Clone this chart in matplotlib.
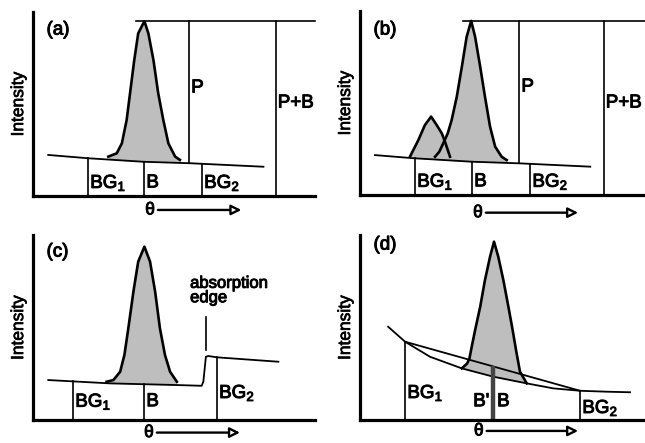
import numpy as np
import matplotlib.pyplot as plt
import matplotlib.patheffects as pe

plt.rcParams['font.family'] = ['Liberation Sans', 'DejaVu Sans']
plt.rcParams['mathtext.fontset'] = 'custom'
plt.rcParams['mathtext.rm'] = 'Liberation Sans'
plt.rcParams['mathtext.it'] = 'Liberation Sans'

# panel (a): single peak on a sloping background
a_base_x = [5.4, 19.6, 39.1, 55.7, 81.7]
a_base_y = [22.3, 20.5, 18.6, 17.8, 15.9]
a_peak_x = [26.7, 29.7, 31.5, 33.2, 34.4, 35.9, 37.3, 39.5, 40.9, 42.7, 44.4, 46.2, 48.0, 50.4, 52.1]
a_peak_y = [21.4, 23.2, 28.6, 41.3, 55.8, 73.9, 88.4, 95.0, 88.4, 73.9, 55.8, 41.3, 28.6, 21.4, 19.6]
a_marks = [19.5, 39.4, 59.9]          # BG1, B, BG2
a_p_x, a_pb_x, a_top = 55.3, 86.2, 95.0

# panel (b): overlapping neighbour peak
b_base_x = [5.3, 18.9, 39.6, 56.7, 81.6]
b_base_y = [21.7, 20.0, 18.1, 17.2, 15.4]
b_main_x = [26.6, 28.1, 29.5, 31.1, 32.5, 34.3, 36.1, 37.8, 39.4, 40.8, 42.6, 44.3, 46.1, 47.9, 50.2, 52.0]
b_main_y = [20.8, 23.5, 28.1, 33.5, 40.8, 53.4, 69.7, 86.0, 94.6, 86.0, 69.7, 53.4, 37.1, 26.3, 20.8, 19.0]
b_small_x = [17.7, 20.7, 23.0, 25.2, 27.2, 29.0, 29.9, 31.1, 31.9]
b_small_y = [20.8, 29.9, 38.0, 42.6, 38.0, 33.5, 29.9, 24.5, 20.8]
b_marks = [19.5, 39.7, 60.3]
b_p_x, b_pb_x, b_top = 56.4, 86.5, 94.6

# panel (c): absorption edge in the background
c_base_x = [5.4, 27.3, 51.0, 59.8, 60.4, 61.3, 62.2, 65.1, 87.0]
c_base_y = [21.6, 19.8, 18.9, 18.5, 20.7, 34.2, 34.6, 33.9, 31.5]
c_peak_x = [26.1, 28.5, 30.9, 32.4, 33.8, 35.6, 37.3, 39.5, 41.5, 43.3, 45.0, 46.8, 48.6, 51.0]
c_peak_y = [20.7, 21.6, 26.1, 35.1, 49.6, 69.4, 85.6, 93.7, 85.6, 69.4, 49.6, 35.1, 26.1, 20.7]
c_marks = [14.2, 39.4, 65.2]
c_edge_x = 61.3

# panel (d): curved background vs. linear estimate
d_curve_x = [10.0, 16.0, 24.8, 36.1, 47.3, 59.1, 68.5, 78.0, 87.5, 95.7]
d_curve_y = [50.4, 42.3, 34.2, 27.9, 23.4, 19.8, 17.1, 15.8, 15.3, 15.0]
d_peak_x = [36.1, 38.0, 38.8, 39.6, 40.8, 42.6, 44.3, 46.1, 47.5, 49.0, 50.8, 52.6, 54.1, 55.3, 56.7, 59.1]
d_peak_y = [27.9, 30.6, 33.4, 39.6, 48.6, 61.2, 75.7, 88.3, 96.4, 88.3, 75.7, 61.2, 48.6, 37.8, 26.1, 19.8]
d_bg_x = [16.0, 78.0]
d_b_x = 47.2

GRAY = '#bebebe'
PEAK_LW = 1.9
LINE_LW = 1.2
FS = 13.5
HEAVY = [pe.withStroke(linewidth=0.7, foreground='black')]

fig = plt.figure(figsize=(6.45, 4.43), dpi=100)
ax_a = fig.add_axes([0.0512, 0.5576, 0.4372, 0.4153])
ax_b = fig.add_axes([0.5581, 0.5598, 0.4419, 0.4153])
ax_c = fig.add_axes([0.0512, 0.0519, 0.4372, 0.4176])
ax_d = fig.add_axes([0.5581, 0.0519, 0.4419, 0.4176])


def label(ax, x, y, s, **kw):
    kw.setdefault('fontsize', FS)
    kw.setdefault('va', 'center')
    kw.setdefault('ha', 'left')
    return ax.text(x, y, s, path_effects=HEAVY, clip_on=False, **kw)


def setup(ax, tag, xmax, tag_y, theta_y, arrow_x):
    ax.set_xlim(0, xmax)
    ax.set_ylim(0, 100)
    ax.set_xticks([])
    ax.set_yticks([])
    for s in ['top', 'right']:
        ax.spines[s].set_visible(False)
    for s in ['left', 'bottom']:
        ax.spines[s].set_linewidth(2.3)
    yl = ax.set_ylabel('Intensity', fontsize=12.5, labelpad=5)
    yl.set_path_effects([pe.withStroke(linewidth=0.5, foreground='black')])
    label(ax, 4.8, tag_y, tag)
    label(ax, arrow_x[0] - 2.8, theta_y, 'θ', fontsize=12.5, ha='center')
    ax.annotate('', xy=(arrow_x[1], theta_y), xytext=(arrow_x[0], theta_y),
                arrowprops=dict(arrowstyle='-|>', fc='white', ec='black', lw=1.7,
                                mutation_scale=15, shrinkA=0, shrinkB=0),
                annotation_clip=False)


def peak(ax, px, py, bx, by):
    px = np.array(px)
    under = np.interp(px, bx, by)
    ax.fill_between(px, under, py, color=GRAY, lw=0)
    ax.plot(px, py, color='black', lw=PEAK_LW, solid_joinstyle='round')


def marks(ax, xs, bx, by, labels, label_y):
    for x, lab, ly in zip(xs, labels, label_y):
        ax.plot([x, x], [0, np.interp(x, bx, by)], color='black', lw=LINE_LW)
        label(ax, x + 0.8, ly, lab)


labels3 = [r'BG$_1$', 'B', r'BG$_2$']

# (a)
setup(ax_a, '(a)', 100, 90.2, -7.6, (44.3, 73.9))
peak(ax_a, a_peak_x, a_peak_y, a_base_x, a_base_y)
ax_a.plot(a_base_x, a_base_y, color='black', lw=1.3)
marks(ax_a, a_marks, a_base_x, a_base_y, labels3, [7.1] * 3)
ax_a.plot([36.5, 100], [a_top, a_top], color='black', lw=LINE_LW, clip_on=False)
ax_a.plot([a_p_x, a_p_x], [a_top, np.interp(a_p_x, a_base_x, a_base_y)], color='black', lw=LINE_LW)
ax_a.plot([a_pb_x, a_pb_x], [a_top, 0], color='black', lw=LINE_LW)
label(ax_a, a_p_x + 0.8, 58.7, 'P')
label(ax_a, a_pb_x + 0.6, 50.5, 'P+B')

# (b)
setup(ax_b, '(b)', 101, 89.7, -9.6, (44.6, 77.3))
sx = np.array(b_small_x)
mx = np.array(b_main_x)
gx = np.union1d(sx, mx)
gs = np.interp(gx, sx, b_small_y, left=0, right=0)
gm = np.interp(gx, mx, b_main_y, left=0, right=0)
top_env = np.maximum(gs, gm)
under = np.interp(gx, b_base_x, b_base_y)
ax_b.fill_between(gx, under, np.maximum(top_env, under), color=GRAY, lw=0)
ax_b.plot(b_small_x, b_small_y, color='black', lw=PEAK_LW)
ax_b.plot(b_main_x, b_main_y, color='black', lw=PEAK_LW)
ax_b.plot(b_base_x, b_base_y, color='black', lw=1.3)
marks(ax_b, b_marks, b_base_x, b_base_y, labels3, [7.2] * 3)
ax_b.plot([36.4, 101], [b_top, b_top], color='black', lw=LINE_LW, clip_on=False)
ax_b.plot([b_p_x, b_p_x], [b_top, np.interp(b_p_x, b_base_x, b_base_y)], color='black', lw=LINE_LW)
ax_b.plot([b_pb_x, b_pb_x], [b_top, 0], color='black', lw=LINE_LW)
label(ax_b, b_p_x + 0.8, 58.7, 'P')
label(ax_b, b_pb_x + 0.6, 50.0, 'P+B')

# (c)
setup(ax_c, '(c)', 100, 90.8, -6.8, (43.9, 73.4))
peak(ax_c, c_peak_x, c_peak_y, c_base_x, c_base_y)
ax_c.plot(c_base_x, c_base_y, color='black', lw=1.3)
marks(ax_c, c_marks, c_base_x, c_base_y, labels3, [9.9, 9.9, 14.6])
ax_c.plot([c_edge_x, c_edge_x], [37.8, 55.7], color='black', lw=LINE_LW)
label(ax_c, 55.7, 70.0, 'absorption\nedge', fontsize=12, linespacing=0.95)

# (d)
setup(ax_d, '(d)', 101, 94.6, -5.9, (44.9, 77.3))
peak(ax_d, d_peak_x, d_peak_y, d_curve_x, d_curve_y)
ax_d.plot(d_curve_x, d_curve_y, color='black', lw=1.3)
chord_y = np.interp(d_bg_x, d_curve_x, d_curve_y)
ax_d.plot(d_bg_x, chord_y, color='black', lw=1.3)
for x, lab, ly in zip(d_bg_x, [r'BG$_1$', r'BG$_2$'], [14.6, 6.5]):
    ax_d.plot([x, x], [0, np.interp(x, d_curve_x, d_curve_y)], color='black', lw=LINE_LW)
    label(ax_d, x + 0.8, ly, lab)
b_top_d = np.interp(d_b_x, d_bg_x, chord_y)
ax_d.plot([d_b_x, d_b_x], [0, b_top_d], color='#444444', lw=3.2, solid_capstyle='butt')
label(ax_d, d_b_x - 1.4, 9.9, "B'", ha='right')
label(ax_d, d_b_x + 1.4, 9.9, 'B')

fig.savefig('out.png', dpi=100)
